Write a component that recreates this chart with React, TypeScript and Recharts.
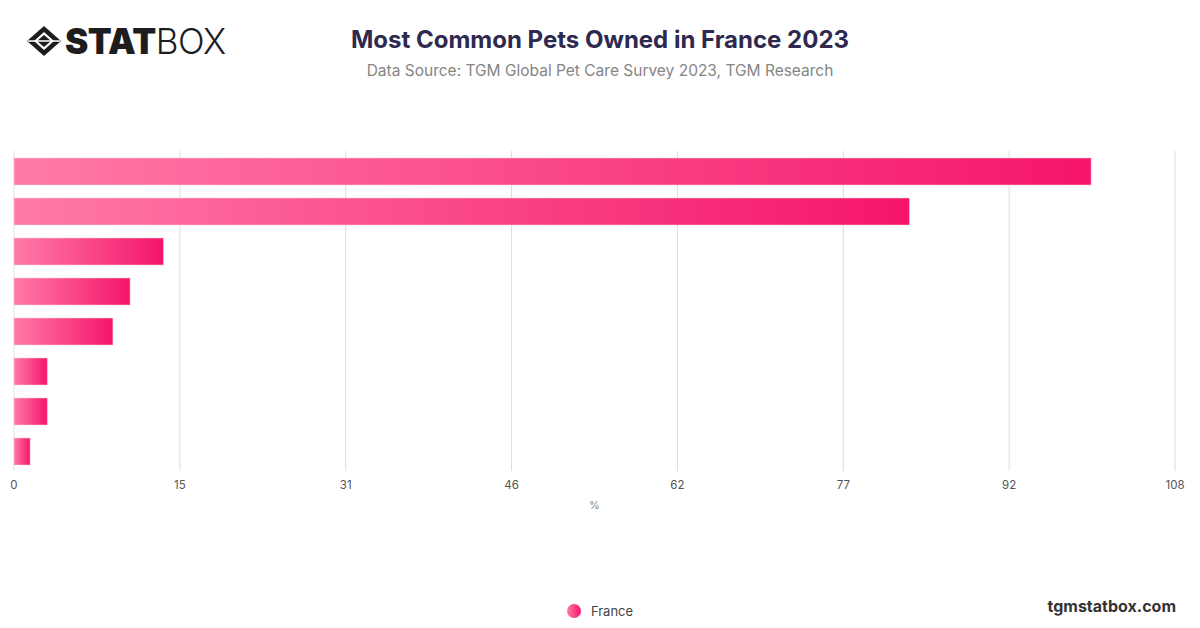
import React from "react";
import { BarChart, Bar, XAxis, YAxis, CartesianGrid } from "recharts";

const categories = ["Cats", "Dogs", "Fish", "Birds", "Rabbits", "Rodents", "Reptiles", "Other"];
const franceValues = [100.2, 83.3, 13.9, 10.8, 9.2, 3.1, 3.1, 1.5];
const tickLabels = ["0", "15", "31", "46", "62", "77", "92", "108"];
const axisMax = 108;
const seriesName = "France";

const data = categories.map((c, i) => ({ name: c, France: franceValues[i] }));
const tickValues = tickLabels.map((_, i) => (axisMax * i) / (tickLabels.length - 1));

const Logo = () => (
  <div style={{ position: "absolute", left: 26, top: 20, display: "flex", alignItems: "center" }}>
    <svg width="36" height="32" viewBox="0 0 36 32">
      <path d="M18 1 L35 16 L18 31 L1 16 Z" fill="#1d1d1f" />
      <path d="M18 7 L28 16 L18 25 L8 16 Z" fill="#fff" />
      <path d="M18 10 L25 16 L18 22 L11 16 Z" fill="#1d1d1f" />
      <path d="M2 16 L34 16" stroke="#fff" strokeWidth="1.5" />
    </svg>
    <span style={{ fontFamily: "Inter, sans-serif", fontWeight: 900, fontSize: 35, color: "#1d1d1f", letterSpacing: -0.5, marginLeft: 3 }}>STAT</span>
    <span style={{ fontFamily: "Inter, sans-serif", fontWeight: 300, fontSize: 35, color: "#1d1d1f", letterSpacing: -0.5 }}>BOX</span>
  </div>
);

export default function App() {
  return (
    <div style={{ position: "absolute", left: 0, top: 0, width: 1200, height: 628, background: "#fff", overflow: "hidden" }}>
      <Logo />
      <div style={{ position: "absolute", left: 0, width: 1200, top: 25, textAlign: "center", fontFamily: "Inter, sans-serif", fontWeight: 700, fontSize: 24, color: "#2e2a4f" }}>
        Most Common Pets Owned in France 2023
      </div>
      <div style={{ position: "absolute", left: 0, width: 1200, top: 61, textAlign: "center", fontFamily: "Inter, sans-serif", fontWeight: 400, fontSize: 15.5, color: "#858585" }}>
        Data Source: TGM Global Pet Care Survey 2023, TGM Research
      </div>
      <div style={{ position: "absolute", right: 24, top: 596, fontFamily: "Inter, sans-serif", fontWeight: 700, fontSize: 16, color: "#333" }}>
        tgmstatbox.com
      </div>
      <div style={{ position: "absolute", left: 0, width: 1200, top: 603, display: "flex", alignItems: "center", justifyContent: "center", fontFamily: "Inter, sans-serif", fontSize: 13, color: "#444" }}>
        <svg width="14" height="14" style={{ marginRight: 10 }}>
          <defs>
            <linearGradient id="legGrad" x1="0" y1="0" x2="1" y2="0">
              <stop offset="0" stopColor="#ff7aa8" />
              <stop offset="1" stopColor="#f5156a" />
            </linearGradient>
          </defs>
          <circle cx="7" cy="7" r="7" fill="url(#legGrad)" />
        </svg>
        <span>{seriesName}</span>
      </div>
      <div style={{ position: "absolute", left: 0, top: 0 }}>
        <BarChart
          width={1200}
          height={628}
          data={data}
          layout="vertical"
          margin={{ top: 151, right: 25, bottom: 113, left: 14 }}
          barSize={27}
        >
          <defs>
            <linearGradient id="barGrad" x1="0" y1="0" x2="1" y2="0">
              <stop offset="0" stopColor="#ff7aa8" />
              <stop offset="1" stopColor="#f5156a" />
            </linearGradient>
          </defs>
          <CartesianGrid horizontal={false} vertical={true} stroke="#dcdcdc" strokeWidth={1} />
          <XAxis
            type="number"
            domain={[0, axisMax]}
            ticks={tickValues}
            interval={0}
            tickFormatter={(v: number) => tickLabels[Math.round((v * (tickLabels.length - 1)) / axisMax)]}
            axisLine={false}
            tickLine={false}
            tick={{ fill: "#555", fontSize: 11.5, fontFamily: "Inter, sans-serif" }}
            tickMargin={4}
            height={44}
            label={{ value: "%", position: "insideBottom", offset: 6, fill: "#888", fontSize: 11, fontFamily: "Inter, sans-serif" }}
          />
          <YAxis type="category" dataKey="name" width={0} tick={false} tickLine={false} axisLine={{ stroke: "#333", strokeWidth: 1.5 }} />
          <Bar dataKey="France" name={seriesName} fill="url(#barGrad)" stroke="#fbd0de" strokeWidth={0.5} isAnimationActive={false} />
        </BarChart>
      </div>
    </div>
  );
}
